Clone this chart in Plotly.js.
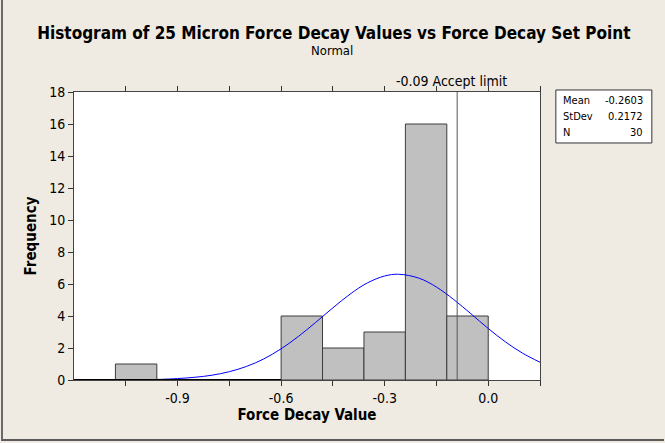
<!DOCTYPE html>
<html>
<head>
<meta charset="utf-8">
<script src="https://cdn.plot.ly/plotly-3.0.1.min.js"></script>
<style>
html,body{margin:0;padding:0;background:#efebe2;}
#wrap{position:relative;width:665px;height:443px;}
#chart{width:665px;height:443px;}
#frame{position:absolute;left:1px;top:0;width:663px;height:441px;border-left:2px solid #6a6a6a;border-bottom:2px solid #5a5a5a;box-sizing:border-box;pointer-events:none;}
</style>
</head>
<body>
<div id="wrap"><div id="chart"></div><div id="frame"></div></div>
<script>
// Histogram bins (centers) and counts
var binCenters = [-1.02, -0.54, -0.42, -0.30, -0.18, -0.06];
var binCounts  = [1, 4, 2, 3, 16, 4];
var binWidth = 0.12;

// Fitted normal curve
var curveX = [-1.05, -0.95, -0.90, -0.85, -0.80, -0.75, -0.70, -0.65, -0.60, -0.55, -0.50, -0.45, -0.40, -0.35, -0.30, -0.26, -0.20, -0.15, -0.10, -0.05, 0.00, 0.05, 0.10, 0.15];
var curveY = [0.01, 0.04, 0.09, 0.17, 0.30, 0.52, 0.85, 1.32, 1.95, 2.72, 3.60, 4.51, 5.37, 6.07, 6.50, 6.61, 6.36, 5.81, 5.03, 4.14, 3.22, 2.38, 1.67, 1.11];

// Accept limit
var acceptLimit = -0.09;
var acceptLabel = "-0.09 Accept limit";

// Stats
var statNames  = ["Mean", "StDev", "N"];
var statValues = ["-0.2603", "0.2172", "30"];

// Axis ticks
var xTickVals = [-1.05, -0.9, -0.75, -0.6, -0.45, -0.3, -0.15, 0.0, 0.15];
var xTickText = ["", "-0.9", "", "-0.6", "", "-0.3", "", "0.0", ""];
var yTickVals = [0, 2, 4, 6, 8, 10, 12, 14, 16, 18];

var font = "DejaVu Sans Condensed, DejaVu Sans, sans-serif";

var traces = [
  {
    type: "bar",
    x: binCenters,
    y: binCounts,
    width: binCenters.map(function(){return binWidth;}),
    marker: {color: "#c0c0c0", line: {color: "#3c3c3c", width: 1}},
    hoverinfo: "x+y"
  },
  {
    type: "scatter",
    mode: "lines",
    x: curveX,
    y: curveY,
    line: {color: "#0000ff", width: 1, shape: "spline"},
    hoverinfo: "skip"
  }
];

var shapes = [
  // empty bins drawn as thick baseline
  {type: "line", xref: "x", yref: "y", x0: -1.2, x1: -0.6, y0: 0, y1: 0, line: {color: "#000", width: 2}, layer: "above"},
  // accept limit line
  {type: "line", xref: "x", yref: "paper", x0: acceptLimit, x1: acceptLimit, y0: 0, y1: 1, line: {color: "#555", width: 1}},
  // stats box
  {type: "rect", xref: "paper", yref: "paper", x0: 1.034, x1: 1.240, y0: 0.823, y1: 1.007, fillcolor: "#ffffff", line: {color: "#333", width: 1}}
];

var statY = [0.972, 0.915, 0.860];
var annotations = [
  {text: acceptLabel, xref: "x", yref: "paper", x: acceptLimit - 0.017, y: 1.0, yanchor: "bottom", xanchor: "center", showarrow: false, font: {family: font, size: 14, color: "#000"}, yshift: 1},
  {text: "Normal", xref: "paper", yref: "paper", x: 0.554, y: 1.0, yshift: 42, yanchor: "middle", xanchor: "center", showarrow: false, font: {family: font, size: 13, color: "#000"}}
];
for (var i = 0; i < statNames.length; i++) {
  annotations.push({text: statNames[i], xref: "paper", yref: "paper", x: 1.046, y: statY[i], xanchor: "left", yanchor: "middle", showarrow: false, font: {family: font, size: 11, color: "#000"}});
  annotations.push({text: statValues[i], xref: "paper", yref: "paper", x: 1.226, y: statY[i], xanchor: "right", yanchor: "middle", showarrow: false, font: {family: font, size: 11, color: "#000"}});
}

var layout = {
  width: 665, height: 443,
  paper_bgcolor: "#efebe2",
  plot_bgcolor: "#ffffff",
  margin: {l: 74, r: 125, t: 92, b: 63},
  showlegend: false,
  bargap: 0,
  title: {text: "<b>Histogram of 25 Micron Force Decay Values vs Force Decay Set Point</b>", x: 0.502, xref: "container", xanchor: "center", y: 0.926, yanchor: "middle", font: {family: font, size: 17, color: "#000"}},
  xaxis: {
    range: [-1.2, 0.15],
    tickvals: xTickVals, ticktext: xTickText,
    ticks: "outside", ticklen: 5, tickcolor: "#333",
    showline: true, linecolor: "#444", linewidth: 1, mirror: "ticks",
    showgrid: false, zeroline: false,
    tickfont: {family: font, size: 14, color: "#000"},
    title: {text: "<b>Force Decay Value</b>", font: {family: font, size: 15, color: "#000"}, standoff: 3}
  },
  yaxis: {
    range: [0, 18],
    tickvals: yTickVals,
    ticks: "outside", ticklen: 5, tickcolor: "#333",
    showline: true, linecolor: "#444", linewidth: 1, mirror: true,
    showgrid: false, zeroline: false,
    tickfont: {family: font, size: 14, color: "#000"},
    title: {text: "<b>Frequency</b>", font: {family: font, size: 15, color: "#000"}, standoff: 8}
  },
  shapes: shapes,
  annotations: annotations
};

Plotly.newPlot("chart", traces, layout, {displayModeBar: false, staticPlot: true});
</script>
</body>
</html>
